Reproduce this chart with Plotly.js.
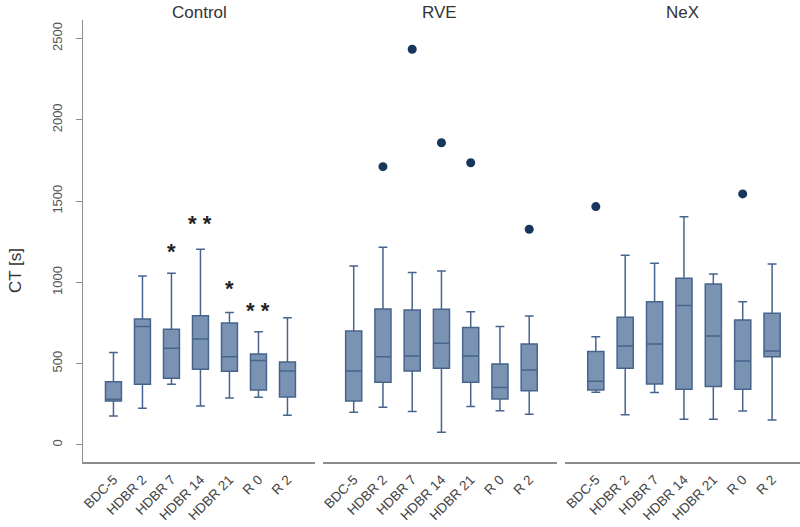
<!DOCTYPE html>
<html>
<head>
<meta charset="utf-8">
<script src="https://cdn.plot.ly/plotly-3.0.1.min.js"></script>
<style>html,body{margin:0;padding:0;background:#fff;}#chart{width:800px;height:527px;}</style>
</head>
<body>
<div id="chart"></div>
<script>
const categories = ['BDC-5', 'HDBR 2', 'HDBR 7', 'HDBR 14', 'HDBR 21', 'R 0', 'R 2'];
const panels = ['Control', 'RVE', 'NeX'];

// Control
const controlLower  = [178, 226, 373, 240, 289, 293, 182];
const controlQ1     = [271, 373, 410, 465, 453, 338, 295];
const controlMedian = [281, 728, 594, 652, 543, 519, 455];
const controlQ3     = [389, 775, 711, 795, 750, 560, 510];
const controlUpper  = [568, 1039, 1056, 1203, 814, 697, 783];

// RVE
const rveLower  = [201, 232, 205, 78, 236, 211, 189];
const rveQ1     = [271, 386, 455, 472, 386, 283, 334];
const rveMedian = [455, 543, 547, 625, 547, 353, 461];
const rveQ3     = [701, 836, 830, 834, 722, 498, 621];
const rveUpper  = [1101, 1216, 1060, 1070, 820, 728, 793];
const rveOutlierCats = ['HDBR 2', 'HDBR 7', 'HDBR 14', 'HDBR 21', 'R 2'];
const rveOutliers    = [1712, 2434, 1859, 1736, 1327];

// NeX
const nexLower  = [324, 185, 322, 158, 158, 209, 154];
const nexQ1     = [338, 472, 375, 343, 359, 343, 543];
const nexMedian = [392, 609, 621, 857, 670, 517, 578];
const nexQ3     = [574, 785, 881, 1025, 990, 769, 810];
const nexUpper  = [666, 1167, 1117, 1404, 1052, 881, 1113];
const nexOutlierCats = ['BDC-5', 'R 0'];
const nexOutliers    = [1466, 1544];

// significance marks (Control panel)
const starCats   = ['HDBR 7', 'HDBR 14', 'HDBR 21', 'R 0'];
const starLabels = ['*', '* *', '*', '* *'];
const starValues = [1190, 1360, 960, 825];

const fillColor = '#7b93b3';
const lineColor = '#46648c';
const dotColor = '#17365c';

function boxTrace(xa, lo, q1, med, q3, up) {
  return {
    type: 'box', xaxis: xa, yaxis: 'y',
    x: categories, q1: q1, median: med, q3: q3, lowerfence: lo, upperfence: up,
    fillcolor: fillColor, line: {color: lineColor, width: 1.5},
    width: 0.55, whiskerwidth: 0.55, boxpoints: false,
    hoverinfo: 'skip', showlegend: false
  };
}
function dotTrace(xa, xs, ys) {
  return {
    type: 'scatter', mode: 'markers', xaxis: xa, yaxis: 'y',
    x: xs, y: ys, marker: {color: dotColor, size: 9},
    hoverinfo: 'skip', showlegend: false
  };
}

const data = [
  boxTrace('x', controlLower, controlQ1, controlMedian, controlQ3, controlUpper),
  boxTrace('x2', rveLower, rveQ1, rveMedian, rveQ3, rveUpper),
  dotTrace('x2', rveOutlierCats, rveOutliers),
  boxTrace('x3', nexLower, nexQ1, nexMedian, nexQ3, nexUpper),
  dotTrace('x3', nexOutlierCats, nexOutliers)
];

const xFont = {family: 'Liberation Sans, Arial, sans-serif', size: 13.5, color: '#444'};
const yFont = {family: 'Liberation Sans, Arial, sans-serif', size: 13, color: '#555'};
function xAxis(domain) {
  return {
    domain: domain, anchor: 'y', type: 'category',
    categoryorder: 'array', categoryarray: categories,
    range: [-1.05, 6.95], showline: true, linecolor: '#8c8c8c', linewidth: 1.5,
    showgrid: false, zeroline: false, ticks: '', tickangle: -45,
    ticklabelstandoff: 3,
    tickfont: xFont, fixedrange: true
  };
}

const domains = [[0, 0.3236], [0.3347, 0.6611], [0.6722, 1]];

const annotations = panels.map((p, i) => ({
  text: p, xref: 'paper', yref: 'paper',
  x: (domains[i][0] + domains[i][1]) / 2, y: 1.018,
  xanchor: 'center', yanchor: 'middle', showarrow: false,
  font: {family: 'Liberation Sans, Arial, sans-serif', size: 17, color: '#333'}
}));
annotations.push({
  text: 'CT [s]', xref: 'paper', yref: 'paper', x: -0.095, y: 0.434,
  xanchor: 'center', yanchor: 'middle', textangle: -90, showarrow: false,
  font: {family: 'Liberation Sans, Arial, sans-serif', size: 17, color: '#333'}
});
starCats.forEach((c, i) => annotations.push({
  text: starLabels[i], xref: 'x', yref: 'y', x: c, y: starValues[i],
  xanchor: 'center', yanchor: 'middle', showarrow: false,
  font: {family: 'Liberation Sans, Arial, sans-serif', size: 22, color: '#222', weight: 'bold'}
}));

const layout = {
  width: 800, height: 527,
  margin: {l: 83, r: 0, t: 20, b: 65},
  paper_bgcolor: '#fff', plot_bgcolor: '#fff',
  xaxis: xAxis(domains[0]), xaxis2: xAxis(domains[1]), xaxis3: xAxis(domains[2]),
  yaxis: {
    range: [-105, 2614], showline: true, linecolor: '#8c8c8c', linewidth: 1.5,
    showgrid: false, zeroline: false, ticks: 'outside', ticklen: 6, tickcolor: '#8c8c8c',
    tickvals: [0, 500, 1000, 1500, 2000, 2500], tickangle: -90,
    ticklabelstandoff: 8,
    tickfont: yFont, fixedrange: true
  },
  annotations: annotations,
  showlegend: false
};

Plotly.newPlot('chart', data, layout, {displayModeBar: false, staticPlot: true});
</script>
</body>
</html>
